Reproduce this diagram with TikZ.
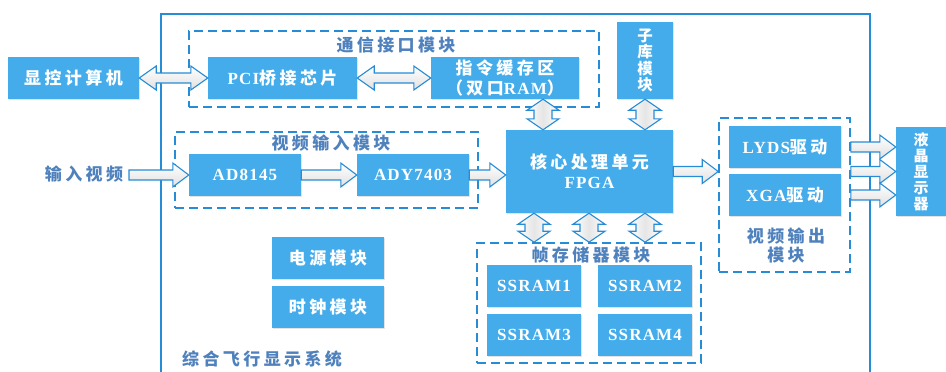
\documentclass[tikz,border=0pt]{standalone}
\usepackage{fontspec}
\setmainfont{Liberation Serif}[LetterSpace=7]
\newfontfamily\cjk{Noto Sans CJK SC}[LetterSpace=20]
\newfontfamily\cjkv{Noto Sans CJK SC}
\usetikzlibrary{calc,shadows}
\definecolor{boxblue}{RGB}{69,172,235}
\definecolor{lineblue}{RGB}{38,140,214}
\definecolor{lblblue}{RGB}{79,129,189}
\newcommand\zh[1]{{\cjk #1}}
\tikzset{
  box/.style={fill=boxblue, text=white, inner sep=0pt, align=center,
    font=\bfseries\fontsize{17}{20}\selectfont,
    drop shadow={shadow xshift=1.2pt, shadow yshift=-1.2pt, opacity=0.18, fill=black!60}},
  dbox/.style={draw=lineblue, line width=1.6pt, dash pattern=on 9pt off 5pt, inner sep=0pt},
  lbl/.style={text=lblblue, inner sep=0pt, align=center,
    font=\cjk\bfseries\fontsize{17}{19}\selectfont},
  barrow/.style={draw=lineblue, line width=1.1pt, line join=miter,
    top color=white, bottom color=black!12},
  vbarrow/.style={draw=lineblue, line width=1.1pt, line join=miter,
    left color=white, right color=white, middle color=black!10},
}
% horizontal double arrow, y of #1, from x of #1 to x of #2
\newcommand\hdarrow[2]{\path[barrow] let \p1=#1, \p2=#2 in
  (\x1,\y1) -- (\x1+17pt,\y1+12pt) -- (\x1+17pt,\y1+5pt) -- (\x2-17pt,\y1+5pt)
  -- (\x2-17pt,\y1+12pt) -- (\x2,\y1) -- (\x2-17pt,\y1-12pt) -- (\x2-17pt,\y1-5pt)
  -- (\x1+17pt,\y1-5pt) -- (\x1+17pt,\y1-12pt) -- cycle;}
% horizontal single arrow
\newcommand\hsarrow[2]{\path[barrow] let \p1=#1, \p2=#2 in
  (\x1,\y1+5pt) -- (\x2-16pt,\y1+5pt) -- (\x2-16pt,\y1+12pt) -- (\x2,\y1)
  -- (\x2-16pt,\y1-12pt) -- (\x2-16pt,\y1-5pt) -- (\x1,\y1-5pt) -- cycle;}
% vertical double arrow, x of #1, from y of #1 (top) to y of #2 (bottom)
\newcommand\vdarrow[2]{\path[vbarrow] let \p1=#1, \p2=#2 in
  (\x1,\y1) -- (\x1+16pt,\y1-11pt) -- (\x1+9pt,\y1-11pt) -- (\x1+9pt,\y2+11pt)
  -- (\x1+16pt,\y2+11pt) -- (\x1,\y2) -- (\x1-16pt,\y2+11pt) -- (\x1-9pt,\y2+11pt)
  -- (\x1-9pt,\y1-11pt) -- (\x1-16pt,\y1-11pt) -- cycle;}
\begin{document}
\begin{tikzpicture}[x=1pt,y=-1pt]
\useasboundingbox (0,0) rectangle (946,372);
% outer system frame
\draw[lineblue, line width=2pt] (161,372) -- (161,14) -- (870,14) -- (870,372);
\node[lbl, anchor=west] (sys) at (182,359) {综合飞行显示系统};

% dashed module boxes
\node[dbox, minimum width=410pt, minimum height=76pt] (comm) at (394,69) {};
\node[dbox, minimum width=303pt, minimum height=76pt] (vin) at (326.5,170) {};
\node[dbox, minimum width=224pt, minimum height=120pt] (frame) at (589,303) {};
\node[dbox, minimum width=131pt, minimum height=154pt] (vout) at (784.5,195) {};

\node[lbl] (commlbl) at (396,45) {通信接口模块};
\node[lbl] (vinlbl) at (331,143) {视频输入模块};
\node[lbl] (framelbl) at (591,255) {帧存储器模块};
\node[lbl] (voutlbl) at (786,245) {视频输出\\模块};

% boxes
\node[box, minimum width=131pt, minimum height=42pt] (pc) at (73.5,78) {\zh{显控计算机}};
\node[box, minimum width=149pt, minimum height=42pt] (pci) at (282.5,78) {PCI\zh{桥接芯片}};
\node[box, minimum width=148pt, minimum height=42pt] (cmd) at (505,78) {\zh{指令缓存区}\\\zh{（双口}RAM\zh{）}};
\node[box, minimum width=56pt, minimum height=77pt, font=\cjkv\bfseries\fontsize{15.5}{16.5}\selectfont] (lib) at (645,60.5) {子\\库\\模\\块};
\node[box, minimum width=112pt, minimum height=42pt] (ad) at (245,175) {AD8145};
\node[box, minimum width=112pt, minimum height=42pt] (ady) at (413,175) {ADY7403};
\node[box, minimum width=167pt, minimum height=83pt] (fpga) at (589.5,171.5) {\zh{核心处理单元}\\FPGA};
\node[box, minimum width=94pt, minimum height=42pt] (ram1) at (534,286) {SSRAM1};
\node[box, minimum width=94pt, minimum height=42pt] (ram2) at (645,286) {SSRAM2};
\node[box, minimum width=94pt, minimum height=42pt] (ram3) at (534,335) {SSRAM3};
\node[box, minimum width=94pt, minimum height=42pt] (ram4) at (645,335) {SSRAM4};
\node[box, minimum width=112pt, minimum height=42pt] (pwr) at (328,258) {\zh{电源模块}};
\node[box, minimum width=112pt, minimum height=42pt] (clk) at (328,307) {\zh{时钟模块}};
\node[box, minimum width=112pt, minimum height=42pt] (lyds) at (785,147) {LYDS\zh{驱动}};
\node[box, minimum width=112pt, minimum height=42pt] (xga) at (785,195) {XGA\zh{驱动}};
\node[box, minimum width=50pt, minimum height=89pt, font=\cjkv\bfseries\fontsize{15}{16}\selectfont] (lcd) at (921,171.5) {液\\晶\\显\\示\\器};

\node[lbl] (intext) at (84,174) {输入视频};
\coordinate (inarrow) at (129,175);

% arrows
\hdarrow{(pc.east)}{(pci.west)}
\hdarrow{(pci.east)}{(cmd.west)}
\vdarrow{([xshift=38pt]cmd.south)}{(fpga.north)}
\vdarrow{(lib.south)}{(fpga.north)}
\hsarrow{(inarrow)}{(ad.west)}
\hsarrow{(ad.east)}{(ady.west)}
\hsarrow{(ady.east)}{(fpga.west)}
\hsarrow{(fpga.east)}{(vout.west)}
\vdarrow{(fpga.south -| ram1)}{(frame.north)}
\vdarrow{(fpga.south -| frame)}{(frame.north)}
\vdarrow{(fpga.south -| ram2)}{(frame.north)}
\hsarrow{(vout.east |- lyds)}{(lcd.west)}
\hsarrow{(vout.east |- lcd)}{(lcd.west)}
\hsarrow{(vout.east |- xga)}{(lcd.west)}
\end{tikzpicture}
\end{document}
